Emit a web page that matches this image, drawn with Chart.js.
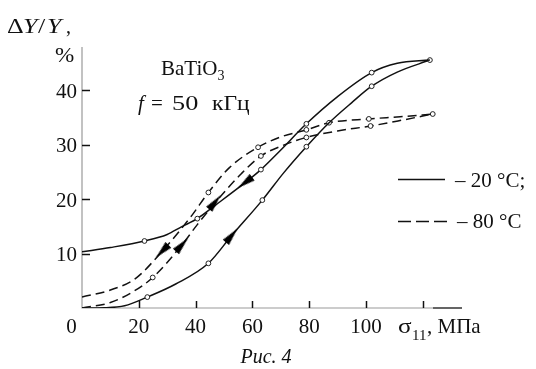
<!DOCTYPE html>
<html>
<head>
<meta charset="utf-8">
<script src="https://cdn.jsdelivr.net/npm/chart.js@4.4.0/dist/chart.umd.min.js"></script>
<style>
  html, body { margin: 0; padding: 0; background: #fff; }
  #chart { display: block; }
</style>
</head>
<body>
<canvas id="chart" width="536" height="369"></canvas>
<script>
// BaTiO3, f = 50 kHz: dY/Y (%) against sigma11 (MPa), loops at 20 and 80 C
const xTicks = [0, 20, 40, 60, 80, 100, 120];
const xTickLabels = ['0', '20', '40', '60', '80', '100', ''];
const yTicks = [10, 20, 30, 40];

// 20 C, loading (lower solid)
const load20X = [0, 8, 15, 23, 33, 44.5, 52.7, 63.5, 71, 79, 87, 95, 102, 111, 122.5];
const load20Y = [0, 0.05, 0.4, 2.0, 4.4, 8.2, 13.3, 19.8, 24.8, 29.6, 34.0, 37.7, 40.7, 43.3, 45.5];
const load20Marks = [23, 44.5, 63.5, 79, 102, 122.5];

// 20 C, unloading (upper solid)
const unload20X = [0, 10, 22, 30, 35, 40.6, 46.8, 57.4, 63, 70, 79, 90, 102, 111, 122.5];
const unload20Y = [10.3, 11.1, 12.3, 13.5, 14.9, 16.4, 18.8, 23.0, 25.4, 29.0, 33.8, 38.8, 43.2, 44.9, 45.5];
const unload20Marks = [22, 40.6, 63, 79, 102];

// 80 C, loading (lower dashed)
const load80X = [0, 10, 18, 24.9, 35.2, 40.6, 48, 56, 63, 71, 79, 90, 101.6, 112, 123.5];
const load80Y = [0, 1.0, 3.0, 5.6, 11.6, 15.3, 20.0, 24.6, 27.9, 29.9, 31.3, 32.5, 33.4, 34.4, 35.6];
const load80Marks = [24.9, 63, 79, 101.6, 123.5];

// 80 C, unloading (upper dashed)
const unload80X = [0, 10, 18.8, 28.2, 38.7, 44.5, 52, 62, 70, 79, 87, 101, 112, 123.5];
const unload80Y = [2.0, 3.3, 5.4, 10.4, 17.0, 21.2, 25.8, 29.5, 31.4, 32.7, 34.0, 34.7, 35.1, 35.6];
const unload80Marks = [44.5, 62, 79, 87, 101];

// arrows: position on a branch, +1 = towards higher stress
const arrowX = [52.7, 57.4, 35.2, 46.8, 28.2];
const arrowY = [13.3, 23.0, 11.6, 19.4, 10.4];
const arrowDir = [1, -1, 1, 1, -1];
const arrowBranch = ['load20', 'unload20', 'load80', 'load80', 'unload80'];

const branches = {
    load20: [load20X, load20Y],
    unload20: [unload20X, unload20Y],
    load80: [load80X, load80Y],
    unload80: [unload80X, unload80Y]
};

const serif = '"Liberation Serif", "DejaVu Serif", serif';

function toPoints(xs, ys) {
    return xs.map((x, i) => ({ x: x, y: ys[i] }));
}

function curve(xs, ys, marks, dash) {
    return {
        data: toPoints(xs, ys),
        showLine: true,
        borderColor: '#111',
        borderWidth: 1.5,
        borderDash: dash,
        cubicInterpolationMode: 'monotone',
        pointRadius: ctx => marks.includes(ctx.raw.x) ? 2.4 : 0,
        pointBackgroundColor: '#fff',
        pointBorderColor: '#222',
        pointBorderWidth: 1
    };
}

// narrow arrow head, pointing up before rotation
const arrowImg = document.createElement('canvas');
arrowImg.width = 8;
arrowImg.height = 18;
(function() {
    const c = arrowImg.getContext('2d');
    c.fillStyle = '#000';
    c.beginPath();
    c.moveTo(4, 0);
    c.lineTo(8, 18);
    c.lineTo(0, 18);
    c.closePath();
    c.fill();
})();

function arrowRotation(ctx) {
    const i = ctx.dataIndex;
    const chart = ctx.chart;
    const [xs, ys] = branches[arrowBranch[i]];
    let k = 0;
    while (k < xs.length - 2 && xs[k + 1] < arrowX[i]) k++;
    const sx = chart.scales.x, sy = chart.scales.y;
    const dx = (sx.getPixelForValue(xs[k + 1]) - sx.getPixelForValue(xs[k])) * arrowDir[i];
    const dy = (sy.getPixelForValue(ys[k + 1]) - sy.getPixelForValue(ys[k])) * arrowDir[i];
    return Math.atan2(dx, -dy) * 180 / Math.PI;
}

function text(c, str, x, y, font, align, stretch) {
    c.save();
    c.font = font;
    c.textAlign = align || 'left';
    c.textBaseline = 'alphabetic';
    c.translate(x, y);
    c.scale(stretch || 1, 1);
    c.fillText(str, 0, 0);
    c.restore();
}

const axesPlugin = {
    id: 'axesPlugin',
    beforeDatasetsDraw(chart) {
        const c = chart.ctx;
        const sx = chart.scales.x, sy = chart.scales.y;
        const a = chart.chartArea;
        c.save();
        c.strokeStyle = '#9a9a9a';
        c.lineWidth = 1.2;
        c.beginPath();
        c.moveTo(a.left, a.top);
        c.lineTo(a.left, a.bottom);
        c.lineTo(a.right, a.bottom);
        c.stroke();
        c.strokeStyle = '#222';
        c.beginPath();
        c.moveTo(433, a.bottom);
        c.lineTo(a.right, a.bottom);
        c.stroke();
        // inner ticks
        c.lineWidth = 1.5;
        c.strokeStyle = '#111';
        xTicks.slice(1).forEach(v => {
            const px = Math.round(sx.getPixelForValue(v)) + 0.5;
            c.beginPath();
            c.moveTo(px, a.bottom);
            c.lineTo(px, a.bottom - 7);
            c.stroke();
        });
        yTicks.forEach(v => {
            const py = Math.round(sy.getPixelForValue(v)) + 0.5;
            c.beginPath();
            c.moveTo(a.left, py);
            c.lineTo(a.left + 8, py);
            c.stroke();
        });
        c.restore();
    },
    afterDraw(chart) {
        const c = chart.ctx;
        const sx = chart.scales.x, sy = chart.scales.y;
        const f21 = '21px ' + serif;
        const i21 = 'italic 21px ' + serif;
        c.save();
        c.fillStyle = '#111';

        // tick labels
        xTicks.forEach((v, i) => {
            if (!xTickLabels[i]) return;
            const px = i === 0 ? 71.5 : sx.getPixelForValue(v);
            text(c, xTickLabels[i], px, 333, f21, 'center');
        });
        yTicks.forEach(v => {
            text(c, String(v), 77, sy.getPixelForValue(v) + 7.5, f21, 'right');
        });

        // y axis title
        text(c, '\u0394', 7, 33, '20px ' + serif, 'left', 1.3);
        text(c, 'Y', 23, 33, 'italic 20px ' + serif, 'left', 1.3);
        text(c, '/', 38, 33, '20px ' + serif, 'left', 1.3);
        text(c, 'Y', 47, 33, 'italic 20px ' + serif, 'left', 1.3);
        text(c, ',', 66, 33, '20px ' + serif);
        text(c, '%', 55, 62, f21, 'left', 1.1);

        // x axis title
        text(c, '\u03c3', 398, 333, f21, 'left', 1.2);
        text(c, '11', 412, 340, '15px ' + serif);
        text(c, ', \u041c\u041f\u0430', 427, 333, f21);

        // caption
        text(c, '\u0420\u0438\u0441. 4', 266, 363, 'italic 20px ' + serif, 'center');

        // material and frequency
        text(c, 'BaTiO', 161, 75, f21);
        c.font = f21;
        const w = c.measureText('BaTiO').width;
        text(c, '3', 161 + w, 80, '14px ' + serif);
        text(c, 'f', 138, 110, i21);
        text(c, '=', 151, 110, f21);
        text(c, '50', 172, 110, f21, 'left', 1.25);
        text(c, '\u043a\u0413\u0446', 212, 110, f21, 'left', 1.12);

        // legend
        c.strokeStyle = '#111';
        c.lineWidth = 1.6;
        c.beginPath();
        c.moveTo(398, 179.5);
        c.lineTo(445, 179.5);
        c.stroke();
        c.setLineDash([13, 5]);
        c.beginPath();
        c.moveTo(398, 221.5);
        c.lineTo(448, 221.5);
        c.stroke();
        c.setLineDash([]);
        text(c, '\u2013 20 \u00b0C;', 455, 187, f21);
        text(c, '\u2013 80 \u00b0C', 457, 228, f21);
        c.restore();
    }
};

new Chart(document.getElementById('chart'), {
    type: 'scatter',
    data: {
        datasets: [
            {
                data: toPoints(arrowX, arrowY),
                pointStyle: arrowImg,
                rotation: arrowRotation,
                pointRadius: 6
            },
            curve(unload20X, unload20Y, unload20Marks, []),
            curve(load20X, load20Y, load20Marks, []),
            curve(unload80X, unload80Y, unload80Marks, [9, 5]),
            curve(load80X, load80Y, load80Marks, [9, 5])
        ]
    },
    options: {
        responsive: false,
        animation: false,
        layout: { padding: { left: 82, right: 74, top: 47, bottom: 61 } },
        scales: {
            x: { type: 'linear', min: 0, max: 133.8, display: false },
            y: { type: 'linear', min: 0, max: 47.9, display: false }
        },
        plugins: {
            legend: { display: false },
            tooltip: { enabled: false }
        }
    },
    plugins: [axesPlugin]
});
</script>
</body>
</html>
